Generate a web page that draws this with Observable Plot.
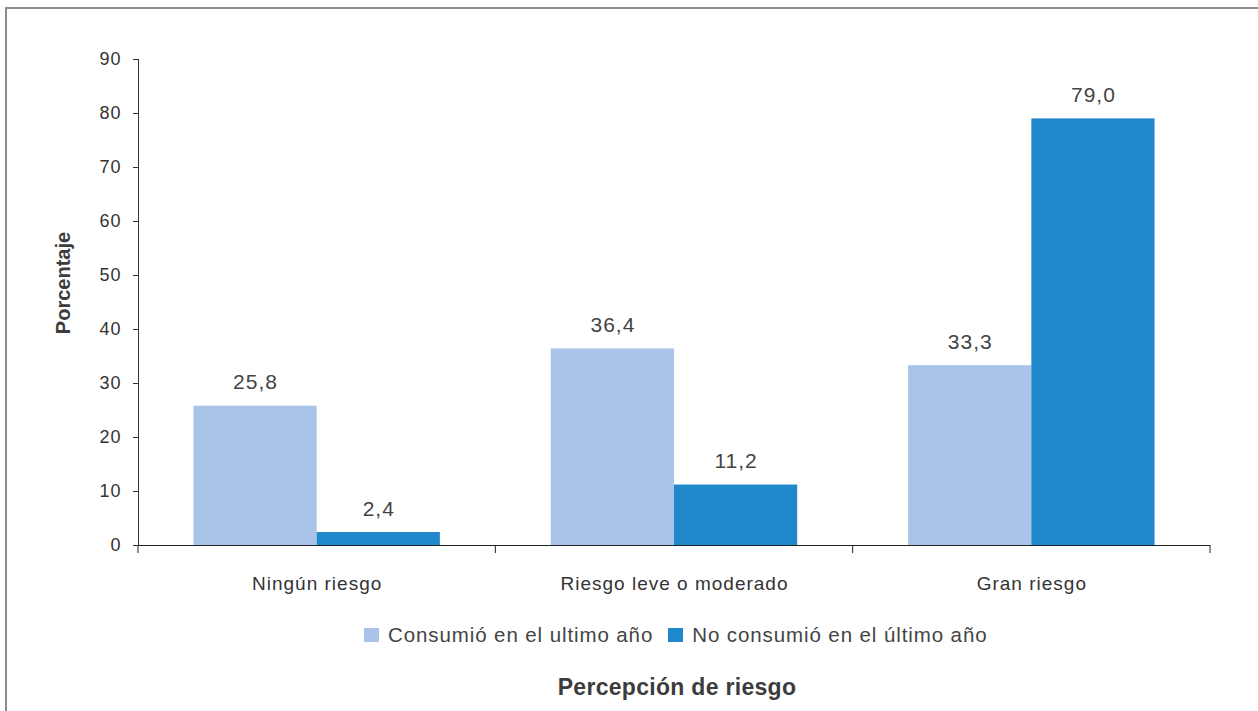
<!DOCTYPE html>
<html>
<head>
<meta charset="utf-8">
<script src="https://cdn.jsdelivr.net/npm/d3@7"></script>
<script src="https://cdn.jsdelivr.net/npm/@observablehq/plot@0.6"></script>
<style>
  html, body { margin: 0; padding: 0; background: #fff; overflow: hidden; }
  #wrap { position: relative; width: 1258px; height: 711px; overflow: hidden; font-family: "Liberation Sans", Arial, sans-serif; color: #444; }
  #frame { position: absolute; left: 5px; top: 7px; width: 1400px; height: 900px; border: 2px solid #8c8c8c; box-sizing: border-box; }
  #chart { position: absolute; left: 0; top: 0; }
  #ylabel { position: absolute; left: 63px; top: 283px; transform: translate(-50%, -50%) rotate(-90deg); font-weight: bold; font-size: 20px; white-space: nowrap; color: #3c3c3c; }
  #legend { position: absolute; left: 364px; top: 635px; transform: translate(0, -50%); display: flex; align-items: center; font-size: 20.5px; letter-spacing: 0.9px; white-space: nowrap; color: #444; }
  #legend .sw { display: inline-block; width: 15px; height: 14px; margin-right: 9px; }
  #legend .item { display: flex; align-items: center; margin-right: 15px; }
  #xtitle { position: absolute; left: 677px; top: 687px; transform: translate(-50%, -50%); font-weight: bold; font-size: 23px; letter-spacing: 0.3px; white-space: nowrap; color: #3c3c3c; }
</style>
</head>
<body>
<div id="wrap">
  <div id="frame"></div>
  <div id="chart"></div>
  <div id="ylabel"></div>
  <div id="legend"></div>
  <div id="xtitle"></div>
</div>
<script>
const categories = ["Ningún riesgo", "Riesgo leve o moderado", "Gran riesgo"];
const series = ["Consumió en el ultimo año", "No consumió en el último año"];
const consumio = [25.8, 36.4, 33.3];
const noConsumio = [2.4, 11.2, 79.0];
const yTicks = [0, 10, 20, 30, 40, 50, 60, 70, 80, 90];
const colors = ["#a9c4e8", "#1f89cb"];
const yLabel = "Porcentaje";
const xTitle = "Percepción de riesgo";

const data = categories.flatMap((c, i) => [
  {cat: c, serie: series[0], value: consumio[i]},
  {cat: c, serie: series[1], value: noConsumio[i]}
]);
const fmt = v => v.toFixed(1).replace(".", ",");

const chart = Plot.plot({
  width: 1258,
  height: 600,
  marginTop: 59,
  marginBottom: 55,
  marginLeft: 138,
  marginRight: 48,
  style: {fontFamily: "'Liberation Sans', Arial, sans-serif", fontSize: "18px", color: "#333", background: "transparent", letterSpacing: "1px"},
  fx: {domain: categories, padding: 0, round: false, label: null, axis: null},
  x: {domain: series, paddingInner: 0, paddingOuter: 0.45, round: false, axis: null},
  y: {domain: [0, 90], ticks: yTicks, tickSize: 5, tickPadding: 12, label: null, line: true, tickFormat: d => String(d)},
  color: {domain: series, range: colors},
  marks: [
    Plot.barY(data, {fx: "cat", x: "serie", y: "value", fill: "serie"}),
    Plot.ruleY([0], {stroke: "#222", strokeWidth: 1}),
    Plot.text(data, {fx: "cat", x: "serie", y: "value", text: d => fmt(d.value), lineAnchor: "bottom", dy: -17, fontSize: 21, fill: "#444", letterSpacing: "2.2px"}),
    Plot.axisFx({anchor: "bottom", tickSize: 0, tickPadding: 31, fontSize: 19, label: null})
  ]
});
document.getElementById("chart").appendChild(chart);

// boundary ticks between category bands on the x axis
const fxs = chart.scale("fx");
const ys = chart.scale("y");
const y0 = ys.apply(0);
const bounds = categories.map(c => fxs.apply(c));
bounds.push(fxs.apply(categories[categories.length - 1]) + fxs.bandwidth);
d3.select(chart).append("g")
  .selectAll("line").data(bounds).join("line")
  .attr("x1", d => d).attr("x2", d => d)
  .attr("y1", y0).attr("y2", y0 + 8)
  .attr("stroke", "#222");

document.getElementById("ylabel").textContent = yLabel;
document.getElementById("xtitle").textContent = xTitle;
const legend = document.getElementById("legend");
series.forEach((s, i) => {
  const item = document.createElement("span");
  item.className = "item";
  const sw = document.createElement("span");
  sw.className = "sw";
  sw.style.background = colors[i];
  item.appendChild(sw);
  item.appendChild(document.createTextNode(s));
  legend.appendChild(item);
});
</script>
</body>
</html>
